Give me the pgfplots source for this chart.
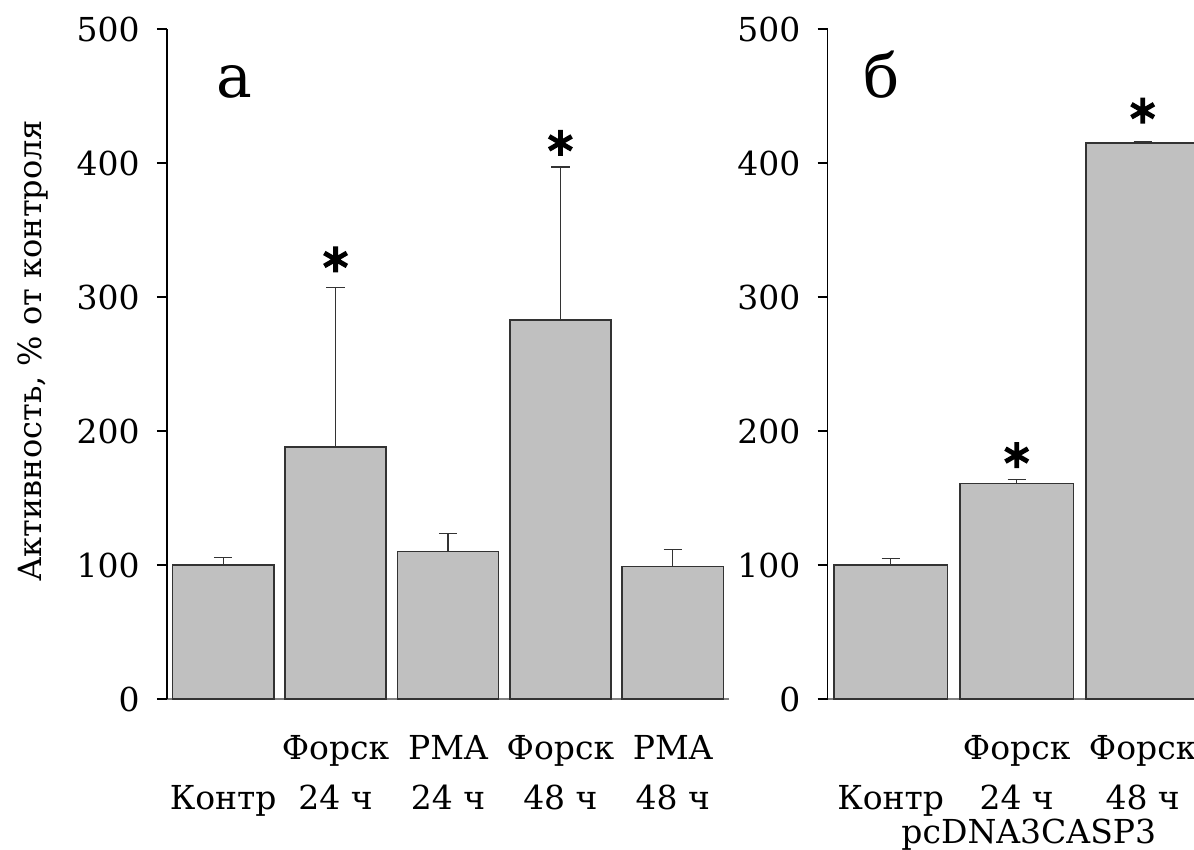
\documentclass[border=0pt]{standalone}
\usepackage{fontspec}
\setmainfont{DejaVu Serif}
\usepackage{pgfplots}
\usepackage{pgfplotstable}
\pgfplotsset{compat=1.18}

\definecolor{barfill}{HTML}{C0C0C0}
\definecolor{baredge}{HTML}{333333}
\definecolor{baseaxis}{HTML}{808080}

% x  value  upper error
\pgfplotstableread{
x y err
0 100 5.5
1 188 119
2 110 13.5
3 283 114
4 99 12.5
}\panela
\pgfplotstableread{
x y err
0 100 5
1 161 3
2 415 1
}\panelb

\tikzset{
  letter/.style={anchor=base west, font=\fontsize{30}{36}\selectfont},
}

\pgfplotsset{
  panel/.style={
    scale only axis,
    height=335pt,
    ymin=0, ymax=500,
    xmin=-0.5,
    axis x line=bottom,
    axis y line=left,
    axis line style={-},
    x axis line style={baseaxis, line width=1.1pt},
    y axis line style={black, line width=0.7pt},
    tick align=outside,
    ytick={0,100,200,300,400,500},
    ytick style={black, line width=0.6pt},
    major tick length=5pt,
    xtick=data,
    xtick style={draw=none},
    /pgf/number format/assume math mode=true,
    yticklabel style={font=\fontsize{16.5}{19}\selectfont, inner sep=2pt, xshift=-6.5pt},
    xticklabel style={font=\fontsize{16.5}{25}\selectfont, align=center,
      anchor=north, inner sep=0pt, yshift=-7.5pt},
    clip=false,
  },
  bars/.style={
    ybar, bar width=0.9, fill=barfill, draw=baredge, line width=0.75pt,
    error bars/.cd, y dir=plus, y explicit,
    error bar style={baredge, line width=0.6pt},
    error mark options={rotate=90, mark size=4.6pt, baredge, line width=0.6pt},
  },
  stars/.style={only marks, mark=asterisk, mark size=6.5pt,
    mark options={black, line width=2.4pt}},
}

\begin{document}
\begin{tikzpicture}
\path[use as bounding box] (0,0) rectangle (597pt,425pt);

\begin{axis}[panel,
  at={(83.5pt,75.5pt)}, anchor=south west,
  width=281pt, xmax=4.5,
  xticklabels={{\strut\\Контр},{\strut Форск\\24 ч},{\strut PMA\\24 ч},{\strut Форск\\48 ч},{\strut PMA\\48 ч}},
  ylabel={Активность, \% от контроля},
  ylabel style={font=\fontsize{16}{19}\selectfont, at={(axis description cs:-0.238,0.52)}, anchor=center, rotate=0},
]
\addplot[bars] table[x=x, y=y, y error=err] {\panela};
\addplot[stars] coordinates {(1,328) (3,415)};
\node[letter] at (axis description cs:0.076,0.898) {а};
\end{axis}

\begin{axis}[panel,
  at={(413.85pt,75.5pt)}, anchor=south west,
  width=189pt, xmax=2.5,
  xticklabels={{\strut\\Контр},{\strut Форск\\24 ч},{\strut Форск\\48 ч}},
]
\addplot[bars] table[x=x, y=y, y error=err] {\panelb};
\addplot[stars] coordinates {(1,182) (2,439)};
\node[letter] at (axis description cs:0.076,0.898) {б};
\node[anchor=base, font=\fontsize{16.5}{19}\selectfont] at (axis description cs:0.532,-0.215) {pcDNA3CASP3};
\end{axis}
\end{tikzpicture}
\end{document}
